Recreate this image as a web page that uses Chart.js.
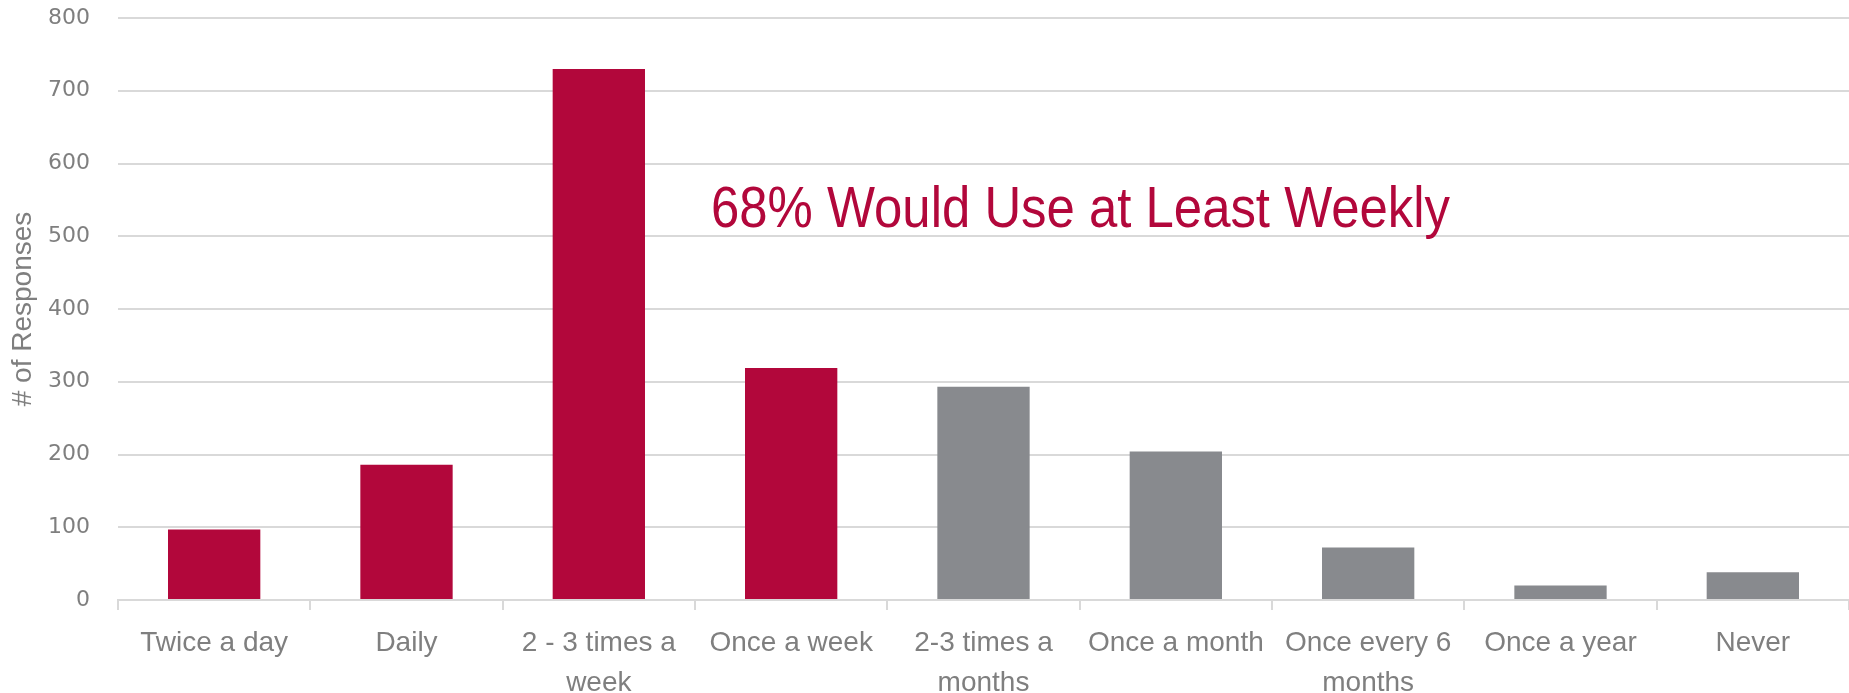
<!DOCTYPE html>
<html>
<head>
<meta charset="utf-8">
<script src="https://cdn.jsdelivr.net/npm/chart.js@4.4.0/dist/chart.umd.min.js"></script>
<style>
  html, body { margin: 0; padding: 0; background: #fff; overflow: hidden; }
  #wrap { position: relative; width: 1849px; height: 693px; }
</style>
</head>
<body>
<div id="wrap"><canvas id="chart-freq" width="1849" height="693"></canvas></div>
<script>
/* ── Data ───────────────────────────────────────────────────── */
const CATEGORIES = [
  'Twice a day', 'Daily', ['2 - 3 times a', 'week'], 'Once a week',
  ['2-3 times a', 'months'], 'Once a month', ['Once every 6', 'months'],
  'Once a year', 'Never'
];
const RESPONSES = [97, 186, 730, 319, 293, 204, 72, 20, 38];
const WEEKLY_OR_MORE = [true, true, true, true, false, false, false, false, false];
const Y_TICKS = [0, 100, 200, 300, 400, 500, 600, 700, 800];
const CALLOUT = '68% Would Use at Least Weekly';

const RED  = '#b2073b';
const GREY = '#888a8e';
const TEXT = '#7f7f7f';
const GRID = '#d9d9d9';

const NARROW = "'Liberation Sans Narrow', 'Arial Narrow', sans-serif";

/* ── Callout text plugin (squeezed to the width it has in the source) ── */
const calloutPlugin = {
  id: 'callout',
  afterDatasetsDraw(chart) {
    const { ctx } = chart;
    const left = 711, right = 1450, baseline = 227;
    ctx.save();
    ctx.font = "58px " + NARROW;
    ctx.fillStyle = RED;
    ctx.textBaseline = 'alphabetic';
    ctx.textAlign = 'left';
    const w = ctx.measureText(CALLOUT).width;
    ctx.translate(left, baseline);
    ctx.scale((right - left) / w, 1);
    ctx.fillText(CALLOUT, 0, 0);
    ctx.restore();
  }
};

/* ── Chart ──────────────────────────────────────────────────── */
new Chart(document.getElementById('chart-freq'), {
  type: 'bar',
  data: {
    labels: CATEGORIES,
    datasets: [{
      data: RESPONSES,
      backgroundColor: WEEKLY_OR_MORE.map(w => w ? RED : GREY),
      borderWidth: 0,
      barPercentage: 0.96,
      categoryPercentage: 0.5,
    }],
  },
  options: {
    responsive: false,
    animation: false,
    layout: { padding: { top: 18, right: 0, bottom: 0, left: 0 } },
    plugins: { legend: { display: false }, tooltip: { enabled: false } },
    scales: {
      x: {
        grid: { drawOnChartArea: false, drawTicks: true, tickLength: 10, color: GRID, lineWidth: 2 },
        border: { display: true, color: GRID, width: 2 },
        ticks: {
          color: TEXT, autoSkip: false, maxRotation: 0, padding: 14,
          font: { family: NARROW, size: 28, lineHeight: 1.4 },
        },
        afterFit: s => { s.height = 93; s.paddingLeft = 0; s.paddingRight = 0; },
      },
      y: {
        min: 0, max: 800,
        afterBuildTicks: s => { s.ticks = Y_TICKS.map(v => ({ value: v })); },
        grid: { color: GRID, lineWidth: 2, drawTicks: false },
        border: { display: false },
        ticks: { color: TEXT, padding: 28, font: { family: "'DejaVu Sans', sans-serif", size: 22 } },
        title: {
          display: true, text: '# of Responses', color: TEXT, padding: { top: 6, bottom: 0 },
          font: { family: NARROW, size: 28 },
        },
        afterFit: s => { s.width = 118; s.paddingTop = 0; s.paddingBottom = 0; },
      },
    },
  },
  plugins: [calloutPlugin],
});
</script>
</body>
</html>
